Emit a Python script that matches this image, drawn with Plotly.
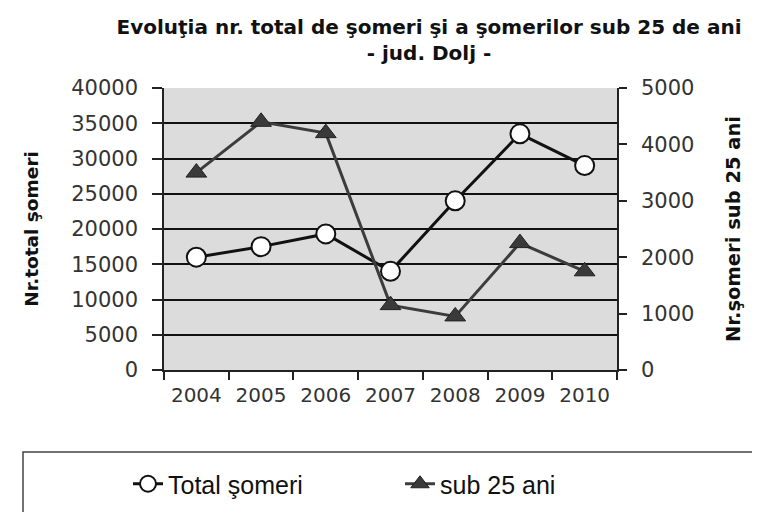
import plotly.graph_objects as go

years = ["2004", "2005", "2006", "2007", "2008", "2009", "2010"]
total_someri = [16000, 17500, 19300, 14000, 24000, 33500, 29000]
sub_25_ani = [3500, 4400, 4200, 1150, 950, 2250, 1750]

# page has an 8px body margin; figure coordinates below are page px - 8
OFF = 8
W, H = 760 - OFF, 512 - OFF
L, R, T, B = 164 - OFF, 143, 88 - OFF, 142
pw, ph = W - L - R, H - T - B

def px_x(p):
    return (p - OFF - L) / pw

def px_y(p):
    return (H - B - (p - OFF)) / ph

fig = go.Figure()

fig.add_trace(go.Scatter(
    x=years, y=sub_25_ani, name="sub 25 ani", yaxis="y2",
    mode="lines+markers",
    line=dict(color="#3c3c3c", width=3),
    marker=dict(symbol="triangle-up", size=18, color="#3a3a3a",
                line=dict(color="#222222", width=1)),
    legend="legend2",
))
fig.add_trace(go.Scatter(
    x=years, y=total_someri, name="Total şomeri",
    mode="lines+markers",
    line=dict(color="#111111", width=3),
    marker=dict(symbol="circle", size=19, color="white",
                line=dict(color="#111111", width=2)),
    legend="legend",
))

ytick_font = dict(family="DejaVu Sans", size=21, color="#333333")
xtick_font = dict(family="DejaVu Sans", size=20, color="#333333")
legend_font = dict(family="Liberation Sans", size=25, color="#111111")

fig.update_layout(
    width=W, height=H,
    margin=dict(l=L, r=R, t=T, b=B, autoexpand=False),
    paper_bgcolor="white",
    plot_bgcolor="#dcdcdc",
    title=dict(
        text="Evoluţia nr. total de şomeri şi a şomerilor sub 25 de ani<br>- jud. Dolj -",
        font=dict(family="DejaVu Sans", size=20, color="#111111", weight="bold"),
        x=px_x(429), xref="paper", xanchor="center",
        y=1 - 26 / H, yref="container", yanchor="middle",
    ),
    xaxis=dict(
        type="category", range=[-0.5, 6.5],
        showline=True, linecolor="#222222", linewidth=1.5,
        ticks="outside", ticklen=8, tickcolor="#222222", tickwidth=1.5,
        tickson="boundaries", showgrid=False,
        tickfont=xtick_font, ticklabelstandoff=6,
    ),
    yaxis=dict(
        range=[0, 40000], dtick=5000, tickformat="d",
        showline=True, linecolor="#222222", linewidth=1.5,
        ticks="outside", ticklen=10, tickcolor="#222222", tickwidth=1.5,
        showgrid=True, gridcolor="#111111", gridwidth=1.5,
        zeroline=False,
        tickfont=ytick_font, ticklabelstandoff=10,
        title=dict(text="Nr.total şomeri", standoff=28,
                   font=dict(family="DejaVu Sans", size=18.5, color="#111111", weight="bold")),
    ),
    yaxis2=dict(
        range=[0, 5000], dtick=1000, tickformat="d",
        overlaying="y", side="right",
        showline=True, linecolor="#222222", linewidth=1.5,
        ticks="outside", ticklen=8, tickcolor="#222222", tickwidth=1.5,
        showgrid=False, zeroline=False,
        tickfont=ytick_font, ticklabelstandoff=10,
        title=dict(text="Nr.şomeri sub 25 ani", standoff=33,
                   font=dict(family="DejaVu Sans", size=19.5, color="#111111", weight="bold")),
    ),
    showlegend=True,
    legend=dict(
        orientation="h",
        x=px_x(128), xanchor="left",
        y=px_y(484), yanchor="middle",
        font=legend_font,
        bgcolor="rgba(0,0,0,0)", borderwidth=0,
    ),
    legend2=dict(
        orientation="h",
        x=px_x(400), xanchor="left",
        y=px_y(484), yanchor="middle",
        font=legend_font,
        bgcolor="rgba(0,0,0,0)", borderwidth=0,
    ),
)

fig.add_shape(
    type="rect", xref="paper", yref="paper",
    x0=px_x(23), x1=px_x(790), y0=px_y(452), y1=px_y(540),
    line=dict(color="#444444", width=1.5), fillcolor="rgba(0,0,0,0)",
    layer="below",
)

fig.write_html("out.html")
